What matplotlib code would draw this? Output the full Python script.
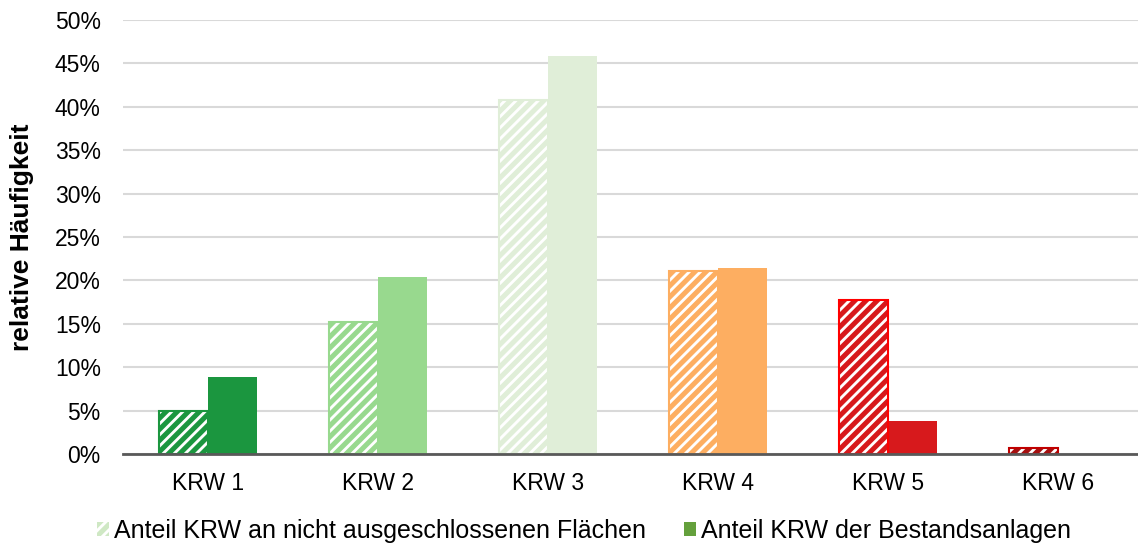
import matplotlib
matplotlib.use("Agg")
import matplotlib.pyplot as plt
from matplotlib.patches import Patch

plt.rcParams['font.family'] = ['Liberation Sans', 'DejaVu Sans']
plt.rcParams['hatch.linewidth'] = 3.6

categories = ["KRW 1", "KRW 2", "KRW 3", "KRW 4", "KRW 5", "KRW 6"]
share_open_areas = [4.9, 15.2, 40.8, 21.1, 17.7, 0.7]      # Anteil KRW an nicht ausgeschlossenen Flächen (%)
share_existing = [8.9, 20.4, 45.9, 21.4, 3.8, 0.0]        # Anteil KRW der Bestandsanlagen (%)
yticks = [0, 5, 10, 15, 20, 25, 30, 35, 40, 45, 50]

fill_colors = ["#1b963f", "#98d98e", "#e0eed8", "#fdae61", "#d7191c", "#a50f0f"]
edge_colors = ["#1b963f", "#98d98e", "#e0eed8", "#fdae61", "#ff0000", "#c00000"]

fig = plt.figure(figsize=(11.38, 5.46), dpi=100)
ax = fig.add_axes([123 / 1138, 1 - 454 / 546, 1020 / 1138, 434 / 546])

w = 0.288
x = list(range(len(categories)))
for i in x:
    # hatched bar: white background with coloured diagonal stripes
    ax.bar(i - w / 2, share_open_areas[i] / 100, width=w, color="white",
           edgecolor=fill_colors[i], hatch="///", linewidth=0, zorder=2)
    ax.bar(i - w / 2, share_open_areas[i] / 100, width=w, fill=False,
           edgecolor=edge_colors[i], linewidth=1.5, zorder=3)
    ax.bar(i + w / 2, share_existing[i] / 100, width=w, color=fill_colors[i],
           linewidth=0, zorder=2)

ax.set_xlim(-0.5, len(categories) - 0.5)
ax.set_ylim(0, 0.5)
ax.set_yticks([t / 100 for t in yticks])
ax.set_yticklabels([f"{t}%" for t in yticks])
ax.set_xticks(x)
ax.set_xticklabels(categories)
ax.tick_params(axis="both", length=0, labelsize=16.5, colors="#000000")
ax.tick_params(axis="y", pad=16)
ax.tick_params(axis="x", pad=13)
ax.grid(axis="y", color="#d9d9d9", linewidth=1.5, zorder=0)
ax.set_axisbelow(True)
for s in ["top", "right", "left"]:
    ax.spines[s].set_visible(False)
ax.spines["bottom"].set_color("#595959")
ax.spines["bottom"].set_linewidth(2)
ax.spines["bottom"].set_zorder(4)

fig.text(22 / 1138, 1 - 237 / 546, "relative Häufigkeit", rotation=90,
         ha="center", va="center", fontsize=19, fontweight="bold")

handles = [
    Patch(facecolor="white", edgecolor="#cfe8c4", hatch="///", linewidth=0,
          label="Anteil KRW an nicht ausgeschlossenen Flächen"),
    Patch(facecolor="#64a03c", edgecolor="#64a03c", linewidth=0,
          label="Anteil KRW der Bestandsanlagen"),
]
fig.legend(handles=handles, loc="center", bbox_to_anchor=(584 / 1138, 1 - 531 / 546),
           ncol=2, frameon=False, fontsize=18, handlelength=0.48, handleheight=0.48,
           handletextpad=0.2, columnspacing=1.5, borderaxespad=0)

fig.savefig("out.png", dpi=100)
